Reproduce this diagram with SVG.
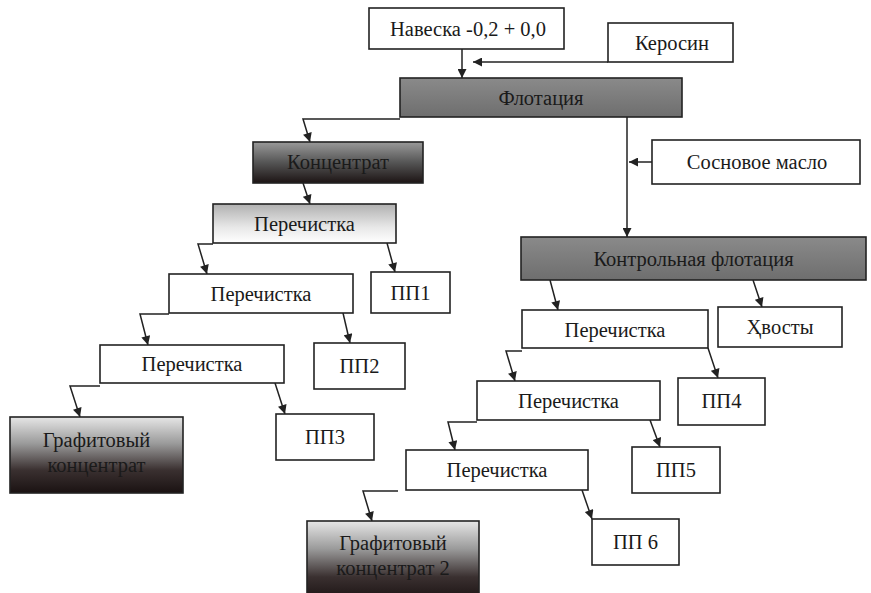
<svg xmlns="http://www.w3.org/2000/svg" width="871" height="593" viewBox="0 0 871 593">
<defs>
<style>
.box{fill:#fff;stroke:#222;stroke-width:1.6}
.dark{stroke:#222;stroke-width:1.6}
.t{font-family:"Liberation Serif","Times New Roman",serif;font-size:20.5px;fill:#1a1a1a;text-anchor:middle;dominant-baseline:central}
.c{fill:none;stroke:#222;stroke-width:1.5}
</style>
<linearGradient id="gFlot" x1="0" y1="0" x2="0" y2="1">
<stop offset="0" stop-color="#8a8a8a"/><stop offset="1" stop-color="#6e6e6e"/>
</linearGradient>
<linearGradient id="gKonc" x1="0" y1="0" x2="0" y2="1">
<stop offset="0" stop-color="#9a9a9a"/><stop offset="0.5" stop-color="#555"/><stop offset="1" stop-color="#1c1414"/>
</linearGradient>
<linearGradient id="gPer" x1="0" y1="0" x2="0" y2="1">
<stop offset="0" stop-color="#b0b0b0"/><stop offset="0.6" stop-color="#e8e8e8"/><stop offset="1" stop-color="#fff"/>
</linearGradient>
<linearGradient id="gGraf" x1="0" y1="0" x2="0" y2="1">
<stop offset="0" stop-color="#e6e6e6"/><stop offset="0.35" stop-color="#9a9a9a"/><stop offset="0.7" stop-color="#3a3030"/><stop offset="1" stop-color="#1a1212"/>
</linearGradient>
<marker id="ah" viewBox="0 0 10 10" refX="10" refY="5" markerWidth="10" markerHeight="9" markerUnits="userSpaceOnUse" orient="auto">
<path d="M0,0 L10,5 L0,10 z" fill="#222"/>
</marker>
</defs>
<rect width="871" height="593" fill="#fff"/>
<g id="connectors">
<path class="c" marker-end="url(#ah)" d="M462,49 L462,78"/>
<path class="c" marker-end="url(#ah)" d="M608,62 L473,62"/>
<path class="c" marker-end="url(#ah)" d="M400,119 L303,119 L310,142"/>
<path class="c" marker-end="url(#ah)" d="M627,117 L627,237"/>
<path class="c" marker-end="url(#ah)" d="M652,162 L629,162"/>
<path class="c" marker-end="url(#ah)" d="M303,183 L310,204"/>
<path class="c" marker-end="url(#ah)" d="M213,244 L198,244 L207,274"/>
<path class="c" marker-end="url(#ah)" d="M387,243 L395,272"/>
<path class="c" marker-end="url(#ah)" d="M169,314 L140,314 L148,345"/>
<path class="c" marker-end="url(#ah)" d="M343,313 L350,343"/>
<path class="c" marker-end="url(#ah)" d="M100,386 L70,386 L80,417"/>
<path class="c" marker-end="url(#ah)" d="M275,383 L285,414"/>
<path class="c" marker-end="url(#ah)" d="M550,280 L558,310"/>
<path class="c" marker-end="url(#ah)" d="M753,280 L762,307"/>
<path class="c" marker-end="url(#ah)" d="M522,351 L506,351 L515,381"/>
<path class="c" marker-end="url(#ah)" d="M708,348 L718,378"/>
<path class="c" marker-end="url(#ah)" d="M477,422 L448,422 L455,450"/>
<path class="c" marker-end="url(#ah)" d="M650,420 L660,447"/>
<path class="c" marker-end="url(#ah)" d="M398,491 L363,491 L372,521"/>
<path class="c" marker-end="url(#ah)" d="M582,490 L592,519"/>
</g>
<g id="naveska"><rect class="box" x="369" y="8" width="195" height="41"/><text class="t" x="468" y="29">Навеска -0,2 + 0,0</text></g>
<g id="kerosin"><rect class="box" x="608" y="23" width="125" height="39"/><text class="t" x="672" y="43">Керосин</text></g>
<g id="flotacia"><rect class="dark" fill="url(#gFlot)" x="400" y="78" width="282" height="39"/><text class="t" x="541" y="98">Флотация</text></g>
<g id="koncentrat"><rect class="dark" fill="url(#gKonc)" x="253" y="142" width="170" height="41"/><text class="t" x="338" y="162">Концентрат</text></g>
<g id="sosnovoe"><rect class="box" x="652" y="140" width="208" height="44"/><text class="t" x="757" y="162">Сосновое масло</text></g>
<g id="perech1"><rect class="dark" fill="url(#gPer)" x="213" y="204" width="183" height="39"/><text class="t" x="304.5" y="224">Перечистка</text></g>
<g id="perech2"><rect class="box" x="169" y="274" width="184" height="39"/><text class="t" x="261" y="294">Перечистка</text></g>
<g id="pp1"><rect class="box" x="371" y="272" width="79" height="41"/><text class="t" x="410.5" y="293">ПП1</text></g>
<g id="perech3"><rect class="box" x="100" y="345" width="184" height="38"/><text class="t" x="192" y="364">Перечистка</text></g>
<g id="pp2"><rect class="box" x="314" y="343" width="91" height="46"/><text class="t" x="359.5" y="366">ПП2</text></g>
<g id="graf1"><rect class="dark" fill="url(#gGraf)" x="10" y="417" width="173" height="76"/><text class="t" x="96.5" y="440">Графитовый</text><text class="t" x="96.5" y="465">концентрат</text></g>
<g id="pp3"><rect class="box" x="276" y="414" width="98" height="46"/><text class="t" x="325" y="437">ПП3</text></g>
<g id="kontrol"><rect class="dark" fill="url(#gFlot)" x="521" y="237" width="345" height="43"/><text class="t" x="693.5" y="259">Контрольная флотация</text></g>
<g id="perechR1"><rect class="box" x="522" y="310" width="186" height="38"/><text class="t" x="615" y="330">Перечистка</text></g>
<g id="hvosty"><rect class="box" x="718" y="307" width="124" height="40"/><text class="t" x="780" y="327">Ҳвосты</text></g>
<g id="perechR2"><rect class="box" x="477" y="381" width="183" height="39"/><text class="t" x="568.5" y="401">Перечистка</text></g>
<g id="pp4"><rect class="box" x="678" y="378" width="87" height="47"/><text class="t" x="721.5" y="401">ПП4</text></g>
<g id="perechR3"><rect class="box" x="406" y="450" width="182" height="40"/><text class="t" x="497" y="470">Перечистка</text></g>
<g id="pp5"><rect class="box" x="632" y="447" width="88" height="46"/><text class="t" x="676" y="470">ПП5</text></g>
<g id="graf2"><rect class="dark" fill="url(#gGraf)" x="307" y="521" width="172" height="80"/><text class="t" x="393" y="543">Графитовый</text><text class="t" x="393" y="568">концентрат 2</text></g>
<g id="pp6"><rect class="box" x="592" y="519" width="87" height="46"/><text class="t" x="635.5" y="542">ПП 6</text></g>
</svg>
